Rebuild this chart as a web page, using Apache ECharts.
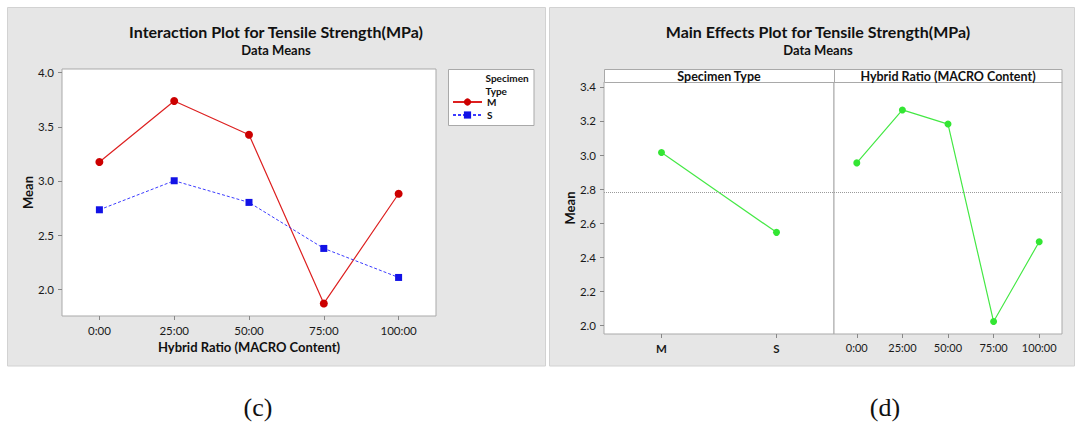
<!DOCTYPE html>
<html>
<head>
<meta charset="utf-8">
<script src="https://cdn.jsdelivr.net/npm/echarts@6/dist/echarts.min.js"></script>
<style>
  html, body { margin: 0; padding: 0; background: #fff; }
  #chart { width: 1077px; height: 426px; }
</style>
</head>
<body>
<div id="chart"></div>
<script>
// values
const hybridRatios = ['0:00', '25:00', '50:00', '75:00', '100:00'];
const specimenTypes = ['M', 'S'];
const meanM = [3.175, 3.738, 3.427, 1.869, 2.882];
const meanS = [2.734, 3.002, 2.802, 2.377, 2.109];
const mainSpecimen = [3.015, 2.546];
const mainRatio = [2.954, 3.265, 3.182, 2.022, 2.491];
const grandMean = 2.779;
const interactionTicks = [2.0, 2.5, 3.0, 3.5, 4.0];
const mainTicks = [2.0, 2.2, 2.4, 2.6, 2.8, 3.0, 3.2, 3.4];

const FONT = 'Lato';
const frameColor = '#a9a9a9';
const labelStyle = { color: '#1a1a1a', fontSize: 11.5, fontFamily: FONT, interval: 0, hideOverlap: false };
const nameStyle = { color: '#111', fontSize: 13, fontWeight: 'bold', fontFamily: FONT };
const tick = { show: true, length: 4, lineStyle: { color: '#888' } };

const chart = echarts.init(document.getElementById('chart'), null, { renderer: 'svg' });

function txt(x, y, text, font, align) {
  return {
    type: 'text', x: x, y: y, z: 20, silent: true,
    style: { text: text, font: font, fill: '#111', align: align || 'center', verticalAlign: 'middle' }
  };
}

const refLine = {
  silent: true,
  symbol: 'none',
  label: { show: false },
  lineStyle: { type: 'dotted', color: '#9a9a9a', width: 1 },
  data: [{ yAxis: grandMean }]
};

const option = {
  animation: false,
  backgroundColor: '#fff',
  graphic: [
    // panel backgrounds
    { type: 'rect', z: -10, shape: { x: 7.5, y: 7.5, width: 538, height: 358.5 },
      style: { fill: '#e6e6e6', stroke: '#d2d2d2', lineWidth: 1 } },
    { type: 'rect', z: -10, shape: { x: 549.5, y: 7.5, width: 525, height: 358.5 },
      style: { fill: '#e6e6e6', stroke: '#d2d2d2', lineWidth: 1 } },
    // legend box
    { type: 'rect', z: 5, shape: { x: 448.5, y: 69.5, width: 85.5, height: 56 },
      style: { fill: '#fff', stroke: frameColor, lineWidth: 1 } },
    // panel header strip
    { type: 'rect', z: 5, shape: { x: 604.5, y: 69.5, width: 457.5, height: 13 },
      style: { fill: '#fff', stroke: frameColor, lineWidth: 1 } },
    { type: 'line', z: 6, shape: { x1: 834.5, y1: 69.5, x2: 834.5, y2: 82.5 },
      style: { stroke: frameColor, lineWidth: 1 } },
    // titles
    txt(276, 31.5, 'Interaction Plot for Tensile Strength(MPa)', 'bold 16px ' + FONT),
    txt(276, 49.5, 'Data Means', 'bold 13px ' + FONT),
    txt(818, 31.5, 'Main Effects Plot for Tensile Strength(MPa)', 'bold 16px ' + FONT),
    txt(818, 49.5, 'Data Means', 'bold 13px ' + FONT),
    txt(485.5, 78, 'Specimen', 'bold 10px ' + FONT, 'left'),
    txt(485.5, 91, 'Type', 'bold 10px ' + FONT, 'left'),
    txt(719, 76, 'Specimen Type', 'bold 12.5px ' + FONT),
    txt(948, 76, 'Hybrid Ratio (MACRO Content)', 'bold 12.5px ' + FONT),
    // figure captions
    txt(258, 407, '(c)', '26px "Liberation Serif"'),
    txt(885, 407, '(d)', '26px "Liberation Serif"')
  ],
  legend: {
    data: ['M', 'S'],
    orient: 'vertical',
    left: 452,
    top: 97,
    z: 10,
    padding: 0,
    itemWidth: 29,
    itemHeight: 9,
    itemGap: 3,
    textStyle: { fontSize: 10, fontWeight: 'bold', fontFamily: FONT, color: '#111' }
  },
  grid: [
    { left: 62, top: 69, width: 374, height: 247, show: true, backgroundColor: '#fff',
      borderColor: frameColor, borderWidth: 1 },
    { left: 604, top: 82, width: 230, height: 252, show: true, backgroundColor: '#fff',
      borderColor: frameColor, borderWidth: 1 },
    { left: 834, top: 82, width: 228, height: 252, show: true, backgroundColor: '#fff',
      borderColor: frameColor, borderWidth: 1 }
  ],
  xAxis: [
    { gridIndex: 0, type: 'category', data: hybridRatios, boundaryGap: true,
      axisLine: { show: false }, axisTick: Object.assign({ alignWithLabel: true, interval: 0 }, tick),
      axisLabel: Object.assign({ margin: 8 }, labelStyle),
      name: 'Hybrid Ratio (MACRO Content)', nameLocation: 'middle', nameGap: 22,
      nameTextStyle: nameStyle },
    { gridIndex: 1, type: 'category', data: specimenTypes, boundaryGap: true,
      axisLine: { show: false }, axisTick: Object.assign({ alignWithLabel: true, interval: 0 }, tick),
      axisLabel: Object.assign({ margin: 8, fontWeight: 'bold' }, labelStyle) },
    { gridIndex: 2, type: 'category', data: hybridRatios, boundaryGap: true,
      axisLine: { show: false }, axisTick: Object.assign({ alignWithLabel: true, interval: 0 }, tick),
      axisLabel: Object.assign({ margin: 8 }, labelStyle, { fontSize: 11 }) }
  ],
  yAxis: [
    { gridIndex: 0, type: 'value', min: 1.753, max: 4.034,
      splitLine: { show: false }, axisLine: { show: false },
      axisTick: Object.assign({ customValues: interactionTicks }, tick),
      axisLabel: Object.assign({ customValues: interactionTicks, margin: 8,
        formatter: v => v.toFixed(1) }, labelStyle),
      name: 'Mean', nameLocation: 'middle', nameGap: 28, nameTextStyle: nameStyle },
    { gridIndex: 1, type: 'value', min: 1.949, max: 3.429,
      splitLine: { show: false }, axisLine: { show: false },
      axisTick: Object.assign({ customValues: mainTicks }, tick),
      axisLabel: Object.assign({ customValues: mainTicks, margin: 8,
        formatter: v => v.toFixed(1) }, labelStyle),
      name: 'Mean', nameLocation: 'middle', nameGap: 27, nameTextStyle: nameStyle },
    { gridIndex: 2, type: 'value', min: 1.949, max: 3.429, show: false,
      splitLine: { show: false } }
  ],
  series: [
    { name: 'M', type: 'line', xAxisIndex: 0, yAxisIndex: 0, data: meanM,
      symbol: 'circle', symbolSize: 8,
      itemStyle: { color: '#cc0000' },
      lineStyle: { color: '#dd2020', width: 1.2 } },
    { name: 'S', type: 'line', xAxisIndex: 0, yAxisIndex: 0, data: meanS,
      symbol: 'rect', symbolSize: 7,
      itemStyle: { color: '#1212e6' },
      lineStyle: { color: '#3c3cff', width: 1, type: [3, 2] } },
    { name: 'Specimen Type', type: 'line', xAxisIndex: 1, yAxisIndex: 1, data: mainSpecimen,
      symbol: 'circle', symbolSize: 7,
      itemStyle: { color: '#33e633' },
      lineStyle: { color: '#44e844', width: 1.2 },
      markLine: refLine },
    { name: 'Hybrid Ratio', type: 'line', xAxisIndex: 2, yAxisIndex: 2, data: mainRatio,
      symbol: 'circle', symbolSize: 7,
      itemStyle: { color: '#33e633' },
      lineStyle: { color: '#44e844', width: 1.2 },
      markLine: refLine }
  ]
};

chart.setOption(option);
</script>
</body>
</html>
